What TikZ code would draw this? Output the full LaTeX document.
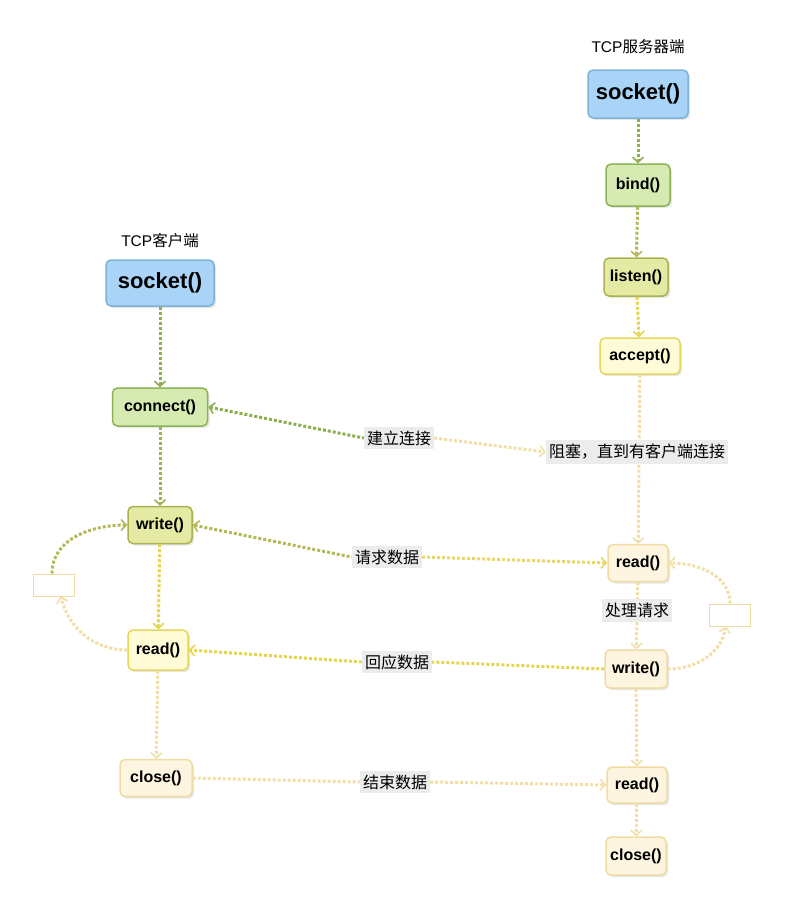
\documentclass[tikz,border=0pt]{standalone}
\usepackage{fontspec}
\setmainfont{Liberation Sans}
\newfontfamily\cjk{Noto Sans CJK SC}
\usetikzlibrary{arrows.meta,shadows}

\definecolor{blueF}{HTML}{A9D4F7}
\definecolor{blueD}{HTML}{7FB3D6}
\definecolor{greenF}{HTML}{D6EBB1}
\definecolor{greenD}{HTML}{8DB356}
\definecolor{oliveF}{HTML}{E4EAA4}
\definecolor{oliveD}{HTML}{ABB050}
\definecolor{yelF}{HTML}{FFFBD6}
\definecolor{yelD}{HTML}{E5D65C}
\definecolor{creamF}{HTML}{FDF5DF}
\definecolor{creamD}{HTML}{F0DBA2}
\definecolor{gline}{HTML}{8DB04E}
\definecolor{oline}{HTML}{B4B957}
\definecolor{yline}{HTML}{E2D64E}
\definecolor{cline}{HTML}{F2DFA8}

\begin{document}
\begin{tikzpicture}[x=1pt,y=1pt,
    box/.style={draw, line width=1.5pt, rounded corners=5pt, inner sep=0pt,
      font=\bfseries\fontsize{16}{18}\selectfont,
      drop shadow={shadow xshift=2pt, shadow yshift=-2pt, opacity=0.2}},
    big/.style={box, font=\bfseries\fontsize{22}{26}\selectfont},
    bluebox/.style={fill=blueF, draw=blueD},
    greenbox/.style={fill=greenF, draw=greenD},
    olivebox/.style={fill=oliveF, draw=oliveD},
    yelbox/.style={fill=yelF, draw=yelD},
    creambox/.style={fill=creamF, draw=creamD},
    ebox/.style={draw=creamD, fill=white, line width=1pt, minimum width=41pt, minimum height=22pt},
    title/.style={font=\fontsize{15.5}{17}\selectfont},
    lbl/.style={fill=gray!15, text=black, inner xsep=3pt, inner ysep=4pt, font=\cjk\fontsize{16}{18}\selectfont},
    link/.style={line width=3pt, dash pattern=on 3pt off 2pt},
    tip/.style={-{Straight Barb[length=5pt, width=11pt, line width=1.6pt]}},
    tipb/.style={{Straight Barb[length=5pt, width=11pt, line width=1.6pt]}-},
  ]
  \useasboundingbox (0,0) rectangle (785,-910);

  % server side
  \node[title] (stitle) at (638,-47) {TCP\cjk 服务器端};
  \node[big, bluebox, minimum width=100pt, minimum height=48pt] (ssock) at (638,-94) {socket()};
  \node[box, greenbox, minimum width=64pt, minimum height=42pt] (bind) at (638,-185) {bind()};
  \node[box, olivebox, minimum width=64pt, minimum height=38pt] (listen) at (636,-277) {listen()};
  \node[box, yelbox, minimum width=80pt, minimum height=36pt] (accept) at (640,-356) {accept()};
  \node[box, creambox, minimum width=60pt, minimum height=37pt] (sread) at (638,-563) {read()};
  \node[box, creambox, minimum width=62pt, minimum height=38pt] (swrite) at (636,-669) {write()};
  \node[box, creambox, minimum width=60pt, minimum height=36pt] (sread2) at (637,-785) {read()};
  \node[box, creambox, minimum width=60pt, minimum height=38pt] (sclose) at (636,-856) {close()};
  \node[ebox] (rbox) at (730,-615) {};

  % client side
  \node[title] (ctitle) at (160,-241) {TCP\cjk 客户端};
  \node[big, bluebox, minimum width=108pt, minimum height=46pt] (csock) at (160,-283) {socket()};
  \node[box, greenbox, minimum width=95pt, minimum height=38pt] (connect) at (160,-407) {connect()};
  \node[box, olivebox, minimum width=64pt, minimum height=37pt] (cwrite) at (160,-525) {write()};
  \node[box, yelbox, minimum width=60pt, minimum height=40pt] (cread) at (158,-650) {read()};
  \node[box, creambox, minimum width=72pt, minimum height=37pt] (cclose) at (156,-778) {close()};
  \node[ebox] (lbox) at (54,-585) {};

  % vertical flow
  \draw[link, gline, tip] (ssock) -- (bind);
  \draw[link, oline, tip] (bind) -- (listen);
  \draw[link, yline, tip] (listen) -- (accept);
  \draw[link, cline, tip] (accept) -- (sread);
  \draw[link, cline, tip] (sread) -- node[lbl, pos=0.42] {处理请求} (swrite);
  \draw[link, cline, tip] (swrite) -- (sread2);
  \draw[link, cline, tip] (sread2) -- (sclose);
  \draw[link, gline, tip] (csock) -- (connect);
  \draw[link, gline!60!oline, tip] (connect) -- (cwrite);
  \draw[link, yline, tip] (cwrite) -- (cread);
  \draw[link, cline, tip] (cread) -- (cclose);

  % loops
  \draw[link, cline, tip] (cread.west) to[out=180, in=-75] (lbox.-60);
  \draw[link, oline, tip] (lbox.100) to[out=90, in=180] (cwrite.west);
  \draw[link, cline, tip] (swrite.east) to[out=0, in=-100] (rbox.-110);
  \draw[link, cline, tip] (rbox.north) to[out=90, in=0] (sread.east);

  % labels between the two sides
  \node[lbl] (lconn) at (399,-438) {建立连接};
  \node[lbl] (lblock) at (637,-452) {阻塞，直到有客户端连接};
  \node[lbl] (lreq) at (387,-557) {请求数据};
  \node[lbl] (lresp) at (397,-662) {回应数据};
  \node[lbl] (lend) at (395,-782) {结束数据};

  \draw[link, gline, tipb] (connect.east) -- (lconn.west);
  \draw[link, cline, tip] (lconn.east) -- (lblock.west);
  \draw[link, oline, tipb] (cwrite.east) -- (lreq.west);
  \draw[link, yline!70!cline, tip] (lreq.east) -- (sread.west);
  \draw[link, yline] (swrite.west) -- (lresp.east);
  \draw[link, yline, tip] (lresp.west) -- (cread.east);
  \draw[link, cline] (cclose.east) -- (lend.west);
  \draw[link, cline, tip] (lend.east) -- (sread2.west);
\end{tikzpicture}
\end{document}
